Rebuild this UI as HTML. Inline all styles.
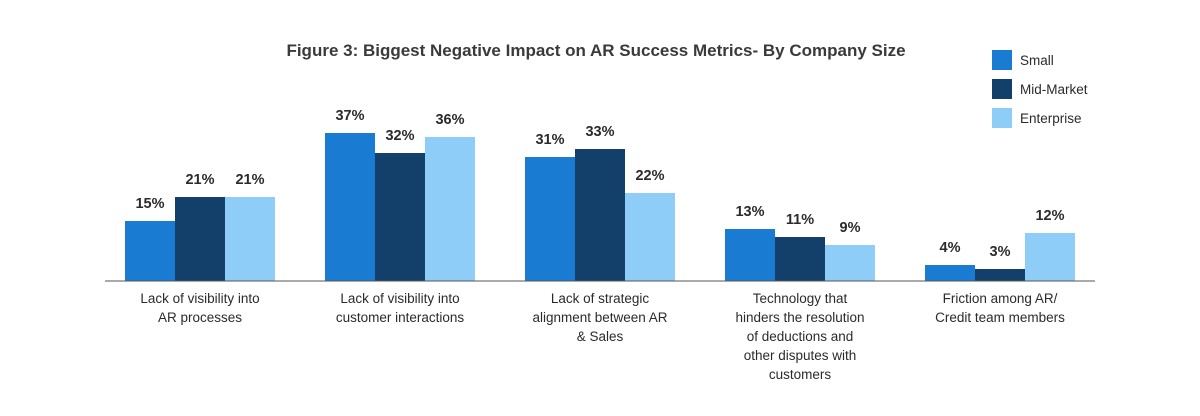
<!DOCTYPE html>
<html><head><meta charset="utf-8"><style>
body{margin:0;background:#fff}
svg{display:block}
text{font-family:"Liberation Sans",sans-serif;fill:#333}
.v{font-size:14.5px;font-weight:bold;text-anchor:middle;fill:#2b2b2b}
.c{font-size:13.5px;text-anchor:middle;fill:#2b2b2b}
.l{font-size:13.5px;fill:#2b2b2b}
.a{fill:#1a7bd2}.b{fill:#13406b}.e{fill:#8dcdf8}
</style></head><body>
<svg width="1200" height="416" viewBox="0 0 1200 416">
<text x="596" y="56" style="font-size:17px;font-weight:bold;text-anchor:middle;fill:#3a3a3a">Figure 3: Biggest Negative Impact on AR Success Metrics- By Company Size</text>
<rect x="992" y="50" width="20" height="20" class="a"/><text class="l" x="1020" y="65">Small</text>
<rect x="992" y="79" width="20" height="20" class="b"/><text class="l" x="1020" y="94">Mid-Market</text>
<rect x="992" y="108" width="20" height="20" class="e"/><text class="l" x="1020" y="123">Enterprise</text>

<rect class="a" x="125" y="221" width="50" height="60"/><text class="v" x="150" y="208">15%</text>
<rect class="b" x="175" y="197" width="50" height="84"/><text class="v" x="200" y="184">21%</text>
<rect class="e" x="225" y="197" width="50" height="84"/><text class="v" x="250" y="184">21%</text>

<rect class="a" x="325" y="133" width="50" height="148"/><text class="v" x="350" y="120">37%</text>
<rect class="b" x="375" y="153" width="50" height="128"/><text class="v" x="400" y="140">32%</text>
<rect class="e" x="425" y="137" width="50" height="144"/><text class="v" x="450" y="124">36%</text>

<rect class="a" x="525" y="157" width="50" height="124"/><text class="v" x="550" y="144">31%</text>
<rect class="b" x="575" y="149" width="50" height="132"/><text class="v" x="600" y="136">33%</text>
<rect class="e" x="625" y="193" width="50" height="88"/><text class="v" x="650" y="180">22%</text>

<rect class="a" x="725" y="229" width="50" height="52"/><text class="v" x="750" y="216">13%</text>
<rect class="b" x="775" y="237" width="50" height="44"/><text class="v" x="800" y="224">11%</text>
<rect class="e" x="825" y="245" width="50" height="36"/><text class="v" x="850" y="232">9%</text>

<rect class="a" x="925" y="265" width="50" height="16"/><text class="v" x="950" y="252">4%</text>
<rect class="b" x="975" y="269" width="50" height="12"/><text class="v" x="1000" y="256">3%</text>
<rect class="e" x="1025" y="233" width="50" height="48"/><text class="v" x="1050" y="220">12%</text>

<line x1="105" y1="281" x2="1095" y2="281" stroke="#555" stroke-width="1"/>
<text class="c" x="200" y="303">Lack of visibility into</text><text class="c" x="200" y="322">AR processes</text>
<text class="c" x="400" y="303">Lack of visibility into</text><text class="c" x="400" y="322">customer interactions</text>
<text class="c" x="600" y="303">Lack of strategic</text><text class="c" x="600" y="322">alignment between AR</text><text class="c" x="600" y="341">&amp; Sales</text>
<text class="c" x="800" y="303">Technology that</text><text class="c" x="800" y="322">hinders the resolution</text><text class="c" x="800" y="341">of deductions and</text><text class="c" x="800" y="360">other disputes with</text><text class="c" x="800" y="379">customers</text>
<text class="c" x="1000" y="303">Friction among AR/</text><text class="c" x="1000" y="322">Credit team members</text>
</svg>
</body></html>
